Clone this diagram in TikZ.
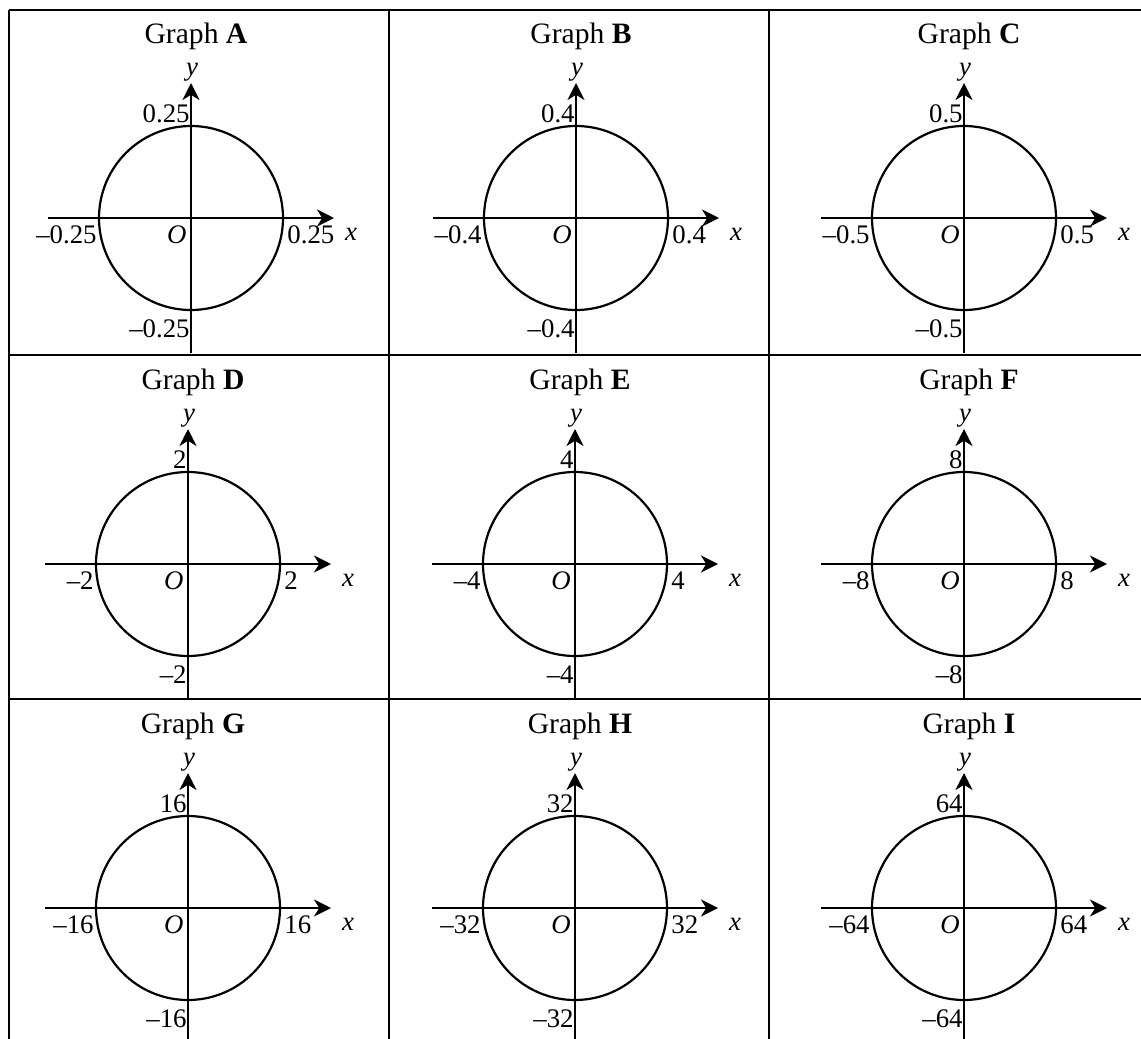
\documentclass[tikz,border=0pt]{standalone}
\usepackage{fontspec}
\setmainfont{Liberation Serif}
\usetikzlibrary{arrows.meta}

\begin{document}
\begin{tikzpicture}[
      x=0.5pt, y=-0.5pt,
      font=\fontsize{13.4}{16}\selectfont,
      frame/.style={line width=1pt},
      axis/.style={line width=1.1pt},
      axisarrow/.style={axis, -{Stealth[length=8.5pt, width=8.5pt, inset=2.6pt]}},
      curve/.style={line width=1.1pt},
      lbl/.style={inner sep=0pt},
      title/.style={lbl, font=\fontsize{14.8}{17}\selectfont}
    ]
      \useasboundingbox (0,0) rectangle (1141,1039);

      % table lines
      \draw[frame] (9,10) -- (1141,10);
      \draw[frame] (9,355) -- (1141,355);
      \draw[frame] (9,699) -- (1141,699);
      \draw[frame] (9,10) -- (9,1039);
      \draw[frame] (389,10) -- (389,1039);
      \draw[frame] (769,10) -- (769,1039);

      % one circle per cell
      \foreach \gname/\ox/\oy/\val in {
          A/191/218/0.25, B/576/218/0.4, C/964/218/0.5,
          D/188/564/2,    E/575/564/4,   F/964/564/8,
          G/188/908/16,   H/575/908/32,  I/964/908/64}{
        \begin{scope}[shift={(\ox,\oy)}]
          \node[title, anchor=base] (title\gname) at (5,-175) {Graph \textbf{\gname}};
          \draw[curve] (0,0) circle[radius=92];
          \draw[axisarrow] (-143,0) -- (143,0);
          \draw[axisarrow] (0,135) -- (0,-135);
          \node[lbl, anchor=base] (ylab\gname) at (1,-143) {\itshape y};
          \node[lbl, anchor=base] (xlab\gname) at (160,22) {\itshape x};
          \node[lbl, anchor=base east] (orig\gname) at (-4,25) {\itshape O};
          \node[lbl, anchor=base east] (top\gname) at (-1,-96) {\val};
          \node[lbl, anchor=base east] (bot\gname) at (-1,119) {--\val};
          \node[lbl, anchor=base east] (left\gname) at (-94,25) {--\val};
          \node[lbl, anchor=base west] (right\gname) at (96,25) {\val};
        \end{scope}
      }
    \end{tikzpicture}
\end{document}
